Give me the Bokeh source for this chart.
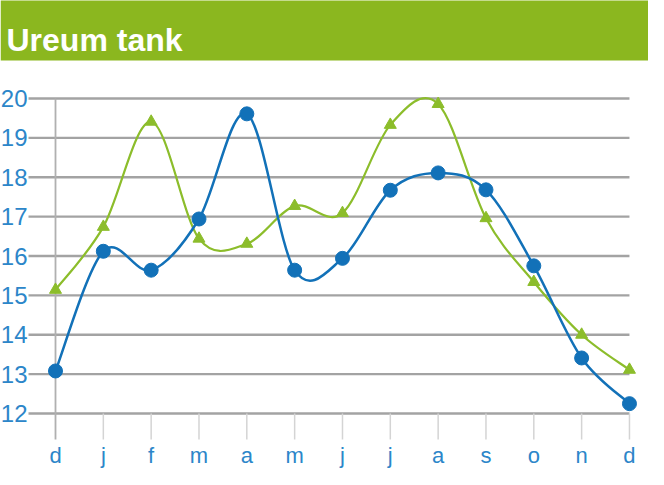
from bokeh.plotting import figure
from bokeh.models import Range1d, ColumnDataSource
from bokeh.core.properties import value
from bokeh.embed import file_html
from bokeh.resources import INLINE

# ---- data ----
months = ["d", "j", "f", "m", "a", "m", "j", "j", "a", "s", "o", "n", "d"]
blue_values = [13.08, 16.12, 15.64, 16.94, 19.61, 15.64, 15.94, 17.67, 18.11, 17.68, 15.75, 13.41, 12.25]
green_values = [15.14, 16.74, 19.41, 16.44, 16.31, 17.27, 17.09, 19.33, 19.86, 16.96, 15.34, 14.0, 13.11]
y_ticks = [12, 13, 14, 15, 16, 17, 18, 19, 20]
title_text = "Ureum tank"

# ---- layout constants (screen) ----
W, H = 648, 469
px_per_x = 47.83       # pixels per month
px_per_y = 39.375      # pixels per unit
x0_px = 55             # pixel of first month
y12_px = 413           # pixel (from top) of value 12

xs = list(range(len(months)))
x_start = -x0_px / px_per_x
x_end = (W - x0_px) / px_per_x
y_end = 12 + y12_px / px_per_y
y_start = 12 - (H - y12_px) / px_per_y

p = figure(width=W, height=H, output_backend="svg", toolbar_location=None,
           x_range=Range1d(x_start, x_end), y_range=Range1d(y_start, y_end),
           min_border=0, min_border_left=0, min_border_right=0,
           min_border_top=0, min_border_bottom=0)
p.axis.visible = False
p.grid.visible = False
p.outline_line_color = None
p.background_fill_color = "white"
p.border_fill_color = "white"

# header band
header_bottom = 12 + (y12_px - 60) / px_per_y
p.quad(left=[x_start], right=[x_end], top=[y_end + 1], bottom=[header_bottom],
       fill_color="#8bb71f", line_color=None)
p.text(x=[x_start], y=[header_bottom], text=[title_text], x_offset=6, y_offset=-21,
       text_color="white", text_font=value("Liberation Sans"), text_font_style="bold",
       text_font_size="32px", text_baseline="alphabetic", text_align="left")

# horizontal grid lines
grid_left = (28 - x0_px) / px_per_x
p.segment(x0=[grid_left] * len(y_ticks), y0=y_ticks, x1=[xs[-1]] * len(y_ticks), y1=y_ticks,
          line_color="#a3a3a3", line_width=2.3)

# tick marks below the axis
tick_bottom = 12 - 26 / px_per_y
p.segment(x0=xs[1:], y0=[12] * (len(xs) - 1), x1=xs[1:], y1=[tick_bottom] * (len(xs) - 1),
          line_color="#d4d4d4", line_width=1.5)
# first vertical line
p.segment(x0=[xs[0]], y0=[y_ticks[-1]], x1=[xs[0]], y1=[tick_bottom],
          line_color="#b0b0b0", line_width=1.8)

# y tick labels
p.text(x=[xs[0]] * len(y_ticks), y=y_ticks, text=[str(t) for t in y_ticks],
       x_offset=-28, text_align="right", text_baseline="middle",
       text_color="#2c86c9", text_font=value("Liberation Sans"), text_font_size="24px")
# x tick labels
p.text(x=xs, y=[12] * len(xs), text=months, y_offset=42,
       text_align="center", text_baseline="middle",
       text_color="#2c86c9", text_font=value("Liberation Sans"), text_font_size="22px")


def bezier_source(xv, yv):
    n = len(xv)
    d = dict(x0=[], y0=[], x1=[], y1=[], cx0=[], cy0=[], cx1=[], cy1=[])
    for i in range(n - 1):
        ip = max(i - 1, 0)
        i2 = min(i + 2, n - 1)
        d["x0"].append(xv[i]); d["y0"].append(yv[i])
        d["x1"].append(xv[i + 1]); d["y1"].append(yv[i + 1])
        d["cx0"].append(xv[i] + (xv[i + 1] - xv[ip]) / 6)
        d["cy0"].append(yv[i] + (yv[i + 1] - yv[ip]) / 6)
        d["cx1"].append(xv[i + 1] - (xv[i2] - xv[i]) / 6)
        d["cy1"].append(yv[i + 1] - (yv[i2] - yv[i]) / 6)
    return ColumnDataSource(d)


green = "#8cbd2b"
blue = "#1271b8"

p.bezier(x0="x0", y0="y0", x1="x1", y1="y1", cx0="cx0", cy0="cy0", cx1="cx1", cy1="cy1",
         source=bezier_source(xs, green_values), line_color=green, line_width=2.2)
p.scatter(xs, green_values, marker="triangle", size=12, fill_color=green, line_color=green)

p.bezier(x0="x0", y0="y0", x1="x1", y1="y1", cx0="cx0", cy0="cy0", cx1="cx1", cy1="cy1",
         source=bezier_source(xs, blue_values), line_color=blue, line_width=2.5)
p.scatter(xs, blue_values, marker="circle", size=14, fill_color=blue, line_color=blue)

open("out.html", "w").write(file_html(p, INLINE))
